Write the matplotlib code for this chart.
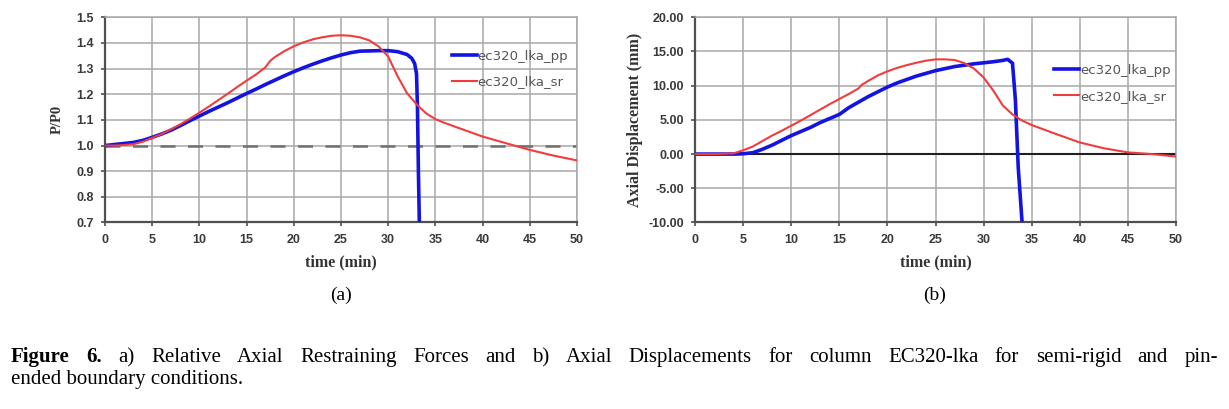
import numpy as np
import matplotlib.pyplot as plt

# (a) relative axial restraining force P/P0
t_pp_a = [0, 1, 2, 3, 4, 5, 6, 7, 8, 9, 10, 11, 12, 13, 14, 15, 16, 17, 18, 19, 20,
          21, 22, 23, 24, 25, 26, 27, 28, 29, 30, 31, 32, 32.5, 32.8, 33.0, 33.1, 33.2, 33.3]
pp_a = [1.0, 1.004, 1.008, 1.012, 1.02, 1.032, 1.045, 1.06, 1.078, 1.097, 1.115, 1.133,
        1.15, 1.167, 1.185, 1.203, 1.22, 1.238, 1.255, 1.272, 1.288, 1.303, 1.317, 1.33,
        1.342, 1.353, 1.362, 1.368, 1.369, 1.37, 1.37, 1.366, 1.355, 1.34, 1.32, 1.28,
        1.15, 0.9, 0.7]
t_sr_a = [0, 1, 2, 3, 4, 5, 6, 7, 8, 9, 10, 11, 12, 13, 14, 15, 16, 17, 17.5, 18, 19, 20,
          21, 22, 23, 24, 25, 26, 27, 28, 29, 30, 31, 32, 33, 34, 35, 36, 37.5, 40, 42.5,
          45, 47.5, 50]
sr_a = [1.0, 1.0, 1.002, 1.005, 1.015, 1.03, 1.045, 1.063, 1.083, 1.105, 1.128, 1.152,
        1.177, 1.202, 1.228, 1.253, 1.277, 1.305, 1.33, 1.345, 1.368, 1.387, 1.402, 1.414,
        1.422, 1.428, 1.43, 1.428, 1.422, 1.41, 1.386, 1.347, 1.27, 1.204, 1.161, 1.126,
        1.103, 1.088, 1.068, 1.035, 1.009, 0.983, 0.961, 0.942]

# (b) axial displacement (mm)
t_pp_b = [0, 2, 4, 5, 6, 7, 8, 9, 10, 11, 12, 13, 14, 15, 16, 17, 18, 19, 20, 21, 22,
          23, 24, 25, 26, 27, 28, 29, 30, 31, 32, 32.5, 33, 33.3, 33.6, 34]
pp_b = [0, 0, 0, 0.05, 0.2, 0.7, 1.3, 2.0, 2.7, 3.3, 3.9, 4.6, 5.2, 5.8, 6.8, 7.6, 8.4,
        9.1, 9.8, 10.4, 10.9, 11.4, 11.8, 12.2, 12.5, 12.8, 13.0, 13.2, 13.35, 13.5, 13.7,
        13.85, 13.3, 8.0, -2.0, -10.0]
t_sr_b = [0, 2, 4, 5, 6, 7, 8, 9, 10, 11, 12, 13, 14, 15, 16, 17, 17.3, 18, 19, 20, 21,
          22, 23, 24, 25, 26, 27, 28, 29, 30, 31, 32, 33, 34, 35, 37.5, 40, 42.5, 45,
          47.5, 50]
sr_b = [0, 0, 0.1, 0.55, 1.1, 1.9, 2.7, 3.4, 4.15, 4.9, 5.7, 6.5, 7.3, 8.05, 8.8, 9.6,
        10.1, 10.7, 11.5, 12.1, 12.6, 13.0, 13.35, 13.65, 13.85, 13.85, 13.75, 13.3, 12.5,
        11.2, 9.3, 7.1, 5.8, 4.9, 4.25, 2.95, 1.7, 0.85, 0.25, 0.0, -0.35]

x_ticks = [0, 5, 10, 15, 20, 25, 30, 35, 40, 45, 50]
y_ticks_a = [0.7, 0.8, 0.9, 1.0, 1.1, 1.2, 1.3, 1.4, 1.5]
y_ticks_b = [-10, -5, 0, 5, 10, 15, 20]
series_names = ["ec320_lka_pp", "ec320_lka_sr"]

caption_words = [("Figure", True), ("6.", True)] + [(w, False) for w in
    "a) Relative Axial Restraining Forces and b) Axial Displacements for column "
    "EC320-lka for semi-rigid and pin-".split()]
caption_line2 = "ended boundary conditions."

blue = "#1414e0"
red = "#f03c3c"
grid_c = "#a8a8a8"
tick_c = "#3a3a3a"
serif = "Liberation Serif"

fig = plt.figure(figsize=(12.29, 4.09), dpi=100)
ax_a = fig.add_axes([0.0854, 0.456, 0.3841, 0.5017])
ax_b = fig.add_axes([0.5655, 0.456, 0.3914, 0.5017])


def style_axes(ax):
    ax.set_xlim(0, 50)
    ax.set_xticks(x_ticks)
    ax.grid(True, color=grid_c, linewidth=1.1)
    ax.set_axisbelow(True)
    for s in ["top", "right"]:
        ax.spines[s].set_color(grid_c)
        ax.spines[s].set_linewidth(1.1)
    for s in ["left", "bottom"]:
        ax.spines[s].set_color("#505050")
        ax.spines[s].set_linewidth(1.6)
    ax.tick_params(axis="both", length=3, width=1.2, color="#505050",
                   labelsize=9, labelcolor=tick_c, pad=5)
    for lab in ax.get_xticklabels() + ax.get_yticklabels():
        lab.set_fontweight("bold")
        lab.set_family("Liberation Sans")
    ax.set_xlabel("time (min)", family=serif, fontweight="bold", fontsize=11.5,
                  color="#333333", labelpad=6)


# (a)
ax_a.plot(t_pp_a, pp_a, color=blue, linewidth=2.6, label=series_names[0], zorder=3)
ax_a.plot(t_sr_a, sr_a, color=red, linewidth=1.5, label=series_names[1], zorder=4)
ax_a.axhline(1.0, color="#707070", linewidth=1.8, linestyle=(0, (6, 5)), zorder=2)
ax_a.set_ylim(0.7, 1.5)
ax_a.set_yticks(y_ticks_a)
ax_a.set_yticklabels([f"{v:.1f}" for v in y_ticks_a])
style_axes(ax_a)
ax_a.set_ylabel("P/P0", family=serif, fontweight="bold", fontsize=10.5, color="#333333",
                labelpad=9)
ax_a.legend(loc="upper left", bbox_to_anchor=(0.71, 0.9), frameon=False, fontsize=9.5,
            handlelength=1.9, handletextpad=0.05, labelspacing=0.95,
            labelcolor="#555555")

# (b)
ax_b.plot(t_pp_b, pp_b, color=blue, linewidth=2.6, label=series_names[0], zorder=3)
ax_b.plot(t_sr_b, sr_b, color=red, linewidth=1.5, label=series_names[1], zorder=4)
ax_b.axhline(0, color="#202020", linewidth=1.5, zorder=2)
ax_b.set_ylim(-10, 20)
ax_b.set_yticks(y_ticks_b)
ax_b.set_yticklabels([f"{v:.2f}" for v in y_ticks_b])
style_axes(ax_b)
ax_b.set_ylabel("Axial Displacement (mm)", family=serif, fontweight="bold", fontsize=11.5,
                color="#333333", labelpad=4)
ax_b.legend(loc="upper left", bbox_to_anchor=(0.722, 0.83), frameon=False, fontsize=9.5,
            handlelength=1.9, handletextpad=0.05, labelspacing=0.95,
            labelcolor="#555555")

fig.text(341 / 1229, 1 - 295 / 409, "(a)", family=serif, fontsize=14, ha="center", va="center")
fig.text(935 / 1229, 1 - 295 / 409, "(b)", family=serif, fontsize=14, ha="center", va="center")

# justified first caption line
renderer = fig.canvas.get_renderer()
x_left, x_right = 11, 1218
y1 = 1 - 362 / 409
texts = []
total = 0
for w, b in caption_words:
    t = fig.text(0, y1, w, family=serif, fontsize=15, fontweight="bold" if b else "normal",
                 va="baseline", ha="left")
    wdt = t.get_window_extent(renderer).width
    texts.append((t, wdt))
    total += wdt
gap = (x_right - x_left - total) / (len(texts) - 1)
x = x_left
for t, wdt in texts:
    t.set_x(x / 1229)
    x += wdt + gap

fig.text(x_left / 1229, 1 - 384 / 409, caption_line2, family=serif, fontsize=15,
         va="baseline", ha="left")

plt.savefig("out.png", dpi=100)
